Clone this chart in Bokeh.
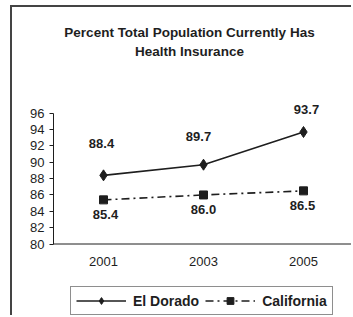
from bokeh.plotting import figure
from bokeh.models import ColumnDataSource, Label, Legend, LegendItem, FactorRange, FixedTicker, Span
from bokeh.embed import file_html
from bokeh.resources import INLINE
from bokeh.core.properties import value

years = ["2001", "2003", "2005"]
el_dorado = [88.4, 89.7, 93.7]
california = [85.4, 86.0, 86.5]
y_ticks = [80, 82, 84, 86, 88, 90, 92, 94, 96]
title_lines = ["Percent Total Population Currently Has", "Health Insurance"]
series_names = ["El Dorado", "California"]

FONT = "Liberation Sans"
INK = "#1e1e1e"
Y_MIN, Y_MAX = 80, 96

# the frame fills the whole canvas height; the value axis is bounded to 80..96
p = figure(width=341, height=310, x_range=FactorRange(*years), y_range=(71.01, 108.93),
           output_backend="svg", toolbar_location=None,
           min_border_left=41, min_border_right=0, min_border_top=0, min_border_bottom=0)
p.styles = {"margin-left": "10px", "margin-top": "5px",
            "border-left": "2px solid #444", "border-top": "2px solid #444"}
p.outline_line_color = None
p.grid.visible = False
p.background_fill_color = "white"
p.border_fill_color = "white"

# y axis
p.yaxis.bounds = (Y_MIN, Y_MAX)
p.yaxis.ticker = FixedTicker(ticks=y_ticks)
p.yaxis.major_tick_out = 4
p.yaxis.major_tick_in = 0
p.yaxis.minor_tick_line_color = None
p.yaxis.major_label_standoff = 5
p.yaxis.major_label_text_font = FONT
p.yaxis.major_label_text_font_size = "13px"
p.yaxis.major_label_text_color = INK
p.yaxis.axis_line_color = INK
p.yaxis.major_tick_line_color = INK

# category axis drawn at the value 80
p.xaxis.visible = False
p.add_layout(Span(location=Y_MIN, dimension="width", line_color=INK, line_width=1))
cat_src = ColumnDataSource(dict(x=years, y=[Y_MIN] * len(years), t=years))
p.text("x", "y", text="t", source=cat_src, y_offset=17, text_align="center",
       text_baseline="middle", text_font=value(FONT), text_font_size="13px",
       text_color=INK)

ed_src = ColumnDataSource(dict(x=years, y=el_dorado, t=[f"{v:.1f}" for v in el_dorado],
                               dx=[-2, -5, 3], dy=[-32, -28, -23]))
ca_src = ColumnDataSource(dict(x=years, y=california, t=[f"{v:.1f}" for v in california],
                               dx=[2, 0, -1]))

l1 = p.line("x", "y", source=ed_src, line_color=INK, line_width=1.6)
s1 = p.scatter("x", "y", source=ed_src, marker="diamond", size=11, color=INK)
l2 = p.line("x", "y", source=ca_src, line_color=INK, line_width=1.6, line_dash="8 4 2 4")
s2 = p.scatter("x", "y", source=ca_src, marker="square", size=8, color=INK)

p.text("x", "y", text="t", source=ed_src, x_offset="dx", y_offset="dy", text_align="center",
       text_baseline="middle", text_font=value(FONT), text_font_size="13px",
       text_font_style="bold", text_color=INK)
p.text("x", "y", text="t", source=ca_src, x_offset="dx", y_offset=15, text_align="center",
       text_baseline="middle", text_font=value(FONT), text_font_size="13px",
       text_font_style="bold", text_color=INK)

for i, line in enumerate(title_lines):
    p.add_layout(Label(x=1.5, y=Y_MAX, x_offset=-14, y_offset=81 - 19 * i, text=line,
                       text_align="center", text_baseline="middle", text_font=FONT,
                       text_font_size="13.5px", text_font_style="bold", text_color=INK))

legend = Legend(items=[LegendItem(label=series_names[0], renderers=[l1, s1]),
                       LegendItem(label=series_names[1], renderers=[l2, s2])],
                location=(17, 2), orientation="horizontal")
legend.glyph_width = 50
legend.glyph_height = 17
legend.label_standoff = 7
legend.spacing = 6
legend.padding = 5
legend.margin = 0
legend.border_line_color = INK
legend.border_line_width = 1
legend.label_text_font = FONT
legend.label_text_font_size = "14px"
legend.label_text_font_style = "bold"
legend.label_text_color = INK
legend.background_fill_alpha = 1
p.add_layout(legend)

open("out.html", "w").write(file_html(p, INLINE))
